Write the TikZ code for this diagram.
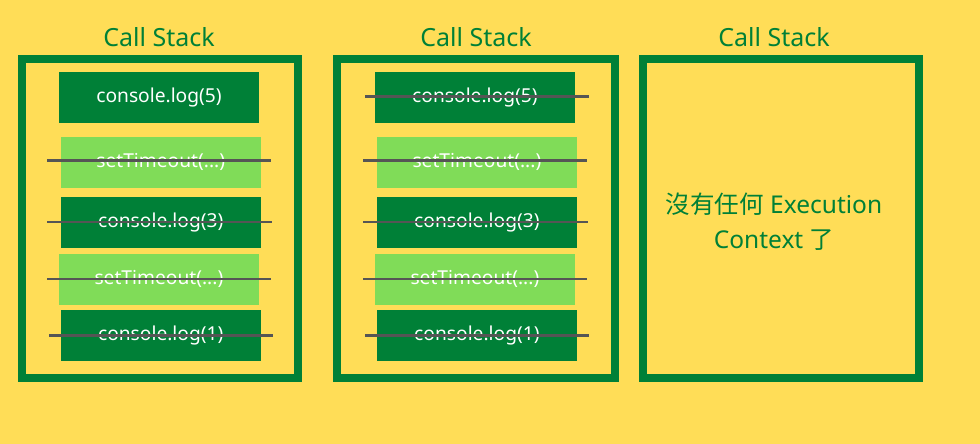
\documentclass[tikz,border=0pt]{standalone}
\usepackage{fontspec}
\setmainfont{Noto Sans}
\newfontfamily\cjk{Noto Sans CJK TC}
\definecolor{bgyellow}{RGB}{255,221,87}
\definecolor{dkgreen}{RGB}{0,128,55}
\definecolor{ltgreen}{RGB}{128,220,88}
\definecolor{strikegray}{RGB}{85,85,85}
\begin{document}
\begin{tikzpicture}[x=1pt,y=-1pt,
  stackbox/.style={draw=dkgreen,line width=8pt},
  frame/.style={fill=dkgreen,text=white,inner sep=0pt,minimum width=200pt,minimum height=51pt,font=\fontsize{19.2}{22}\selectfont},
  lframe/.style={frame,fill=ltgreen},
  title/.style={text=dkgreen,font=\fontsize{25}{30}\selectfont,anchor=base},
  strike/.style={draw=strikegray,line width=2.8pt}]
\fill[bgyellow] (0,0) rectangle (980,444);
\useasboundingbox (0,0) rectangle (980,444);
% stack 1
\node[title] (t1) at (159,47) {Call Stack};
\draw[stackbox] (21.5,59) rectangle (298,377.5);
\node[frame]  (a5) at (159,97.8) {console.log(5)};
\node[lframe] (a4) at (160.7,162.2) {setTimeout(...)};
\node[frame]  (a3) at (160.7,222.2) {console.log(3)};
\node[lframe] (a2) at (158.9,279.4) {setTimeout(...)};
\node[frame]  (a1) at (160.7,335.4) {console.log(1)};
\draw[strike] (47,160.7) -- (271,160.7);
\draw[strike] (47,222) -- (272,222);
\draw[strike] (47,279) -- (271,279);
\draw[strike] (49.3,335.3) -- (273,335.3);
% stack 2
\node[title] (t2) at (476,47) {Call Stack};
\draw[stackbox] (337.3,59) rectangle (615,377.5);
\node[frame]  (b5) at (474.9,97.8) {console.log(5)};
\node[lframe] (b4) at (476.9,162.2) {setTimeout(...)};
\node[frame]  (b3) at (476.9,222.2) {console.log(3)};
\node[lframe] (b2) at (474.9,279.4) {setTimeout(...)};
\node[frame]  (b1) at (476.9,335.4) {console.log(1)};
\draw[strike] (365,96.3) -- (589,96.3);
\draw[strike] (363,160.7) -- (587.3,160.7);
\draw[strike] (363,222) -- (588,222);
\draw[strike] (363,279) -- (587.3,279);
\draw[strike] (365,335.3) -- (589,335.3);
% stack 3
\node[title] (t3) at (774,47) {Call Stack};
\draw[stackbox] (643,59) rectangle (919,377.5);
\node[text=dkgreen,font=\fontsize{24.5}{35}\selectfont,align=center] (msg) at (774,222)
  {{\cjk 沒有任何} Execution\\Context {\cjk 了}};
\end{tikzpicture}
\end{document}
